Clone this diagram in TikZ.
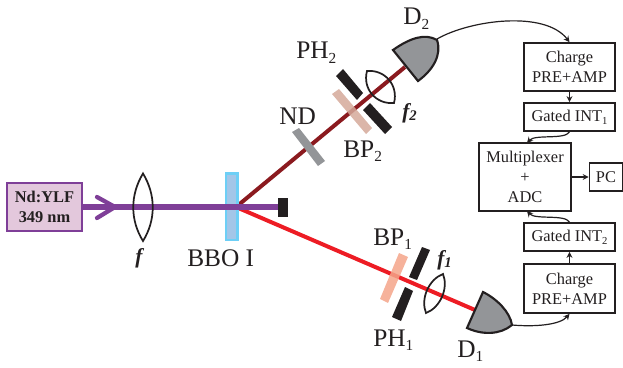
\documentclass[tikz,border=0pt]{standalone}
\usepackage{fontspec}
\setmainfont{Liberation Serif}
\usetikzlibrary{arrows.meta}
\definecolor{lasercol}{HTML}{7F3F98}
\definecolor{laserfill}{HTML}{E3C8DC}
\definecolor{darkbeam}{HTML}{8B1A1F}
\definecolor{redbeam}{HTML}{ED1C24}
\definecolor{txtcol}{HTML}{231F20}
\definecolor{detgray}{HTML}{939598}
\definecolor{bbofill}{HTML}{A3C6E8}
\definecolor{bboedge}{HTML}{6DCFF6}
\definecolor{bpone}{HTML}{F4A58A}
\definecolor{bptwo}{HTML}{D5A99A}
\newcommand{\bigsub}[1]{\raisebox{-3.6pt}{\fontsize{11.5}{12}\selectfont #1}}
\newcommand{\smallsub}[1]{\raisebox{-2pt}{\fontsize{8}{9}\selectfont #1}}
\newcommand{\focalsub}[1]{\raisebox{-2pt}{\fontsize{11}{12}\selectfont #1}}
\tikzset{
  elecbox/.style={draw=txtcol,line width=1.3pt,fill=white,inner sep=0pt,align=center,font=\fontsize{12.3}{15}\selectfont,text=txtcol},
  biglabel/.style={anchor=base west,inner sep=0pt,text=txtcol,font=\fontsize{19}{20}\selectfont},
  focallabel/.style={anchor=base west,inner sep=0pt,text=txtcol,font=\fontsize{16}{17}\selectfont\bfseries\itshape},
  wire/.style={draw=txtcol,line width=0.9pt,-{Stealth[length=4.5pt,width=4.5pt]}},
  lensline/.style={draw=txtcol,line width=1.3pt},
  blockbar/.style={fill=txtcol,draw=none},
  detector/.style={draw=txtcol,line width=1.6pt,fill=detgray,line join=miter}
}
\begin{document}
\begin{tikzpicture}[x=0.75pt,y=-0.75pt]
\useasboundingbox (0,0) rectangle (623,367);
% named points
\coordinate (xtal) at (236,207);
\coordinate (dtwo) at (405,67);
\coordinate (done) at (475,310);
\coordinate (dump) at (279,207);
\coordinate (dtwoout) at (437,39);
\coordinate (doneout) at (512,325);
% beams
\draw[darkbeam,line width=3pt] (xtal) -- (dtwo);
\draw[redbeam,line width=3pt] (xtal) -- (done);
% BBO
\draw[draw=bboedge,line width=1.9pt,fill=bbofill] (226,173.5) rectangle (237.5,240);
% laser
\node[draw=lasercol,line width=1.5pt,fill=laserfill,minimum width=74.5*0.75pt,minimum height=47.5*0.75pt,inner sep=0pt,align=center,text=txtcol,font=\fontsize{12.3}{15}\selectfont\bfseries] (laser) at (44.5,207) {Nd:YLF\\349 nm};
\draw[lasercol,line width=3.8pt] (laser.east) -- (dump);
\draw[lasercol,line width=3.2pt,line cap=round,line join=miter] (97,197) -- (115,207) -- (97,218);
\fill[blockbar] (278,198) rectangle (288,217);
% lens f
\draw[lensline] (143,173.5) .. controls (130,195) and (130,220) .. (143,241) .. controls (156,220) and (156,195) .. (143,173.5) -- cycle;
% upper arm
\fill[fill=detgray] (292,132) -- (299,128) -- (325,161) -- (318,166) -- cycle;
\fill[fill=txtcol] (336,76) -- (343,69) -- (363,93) -- (357,100) -- cycle;
\fill[fill=txtcol] (363,110) -- (370,103) -- (392,127) -- (385,134) -- cycle;
\fill[fill=bptwo,fill opacity=0.85] (332,94) -- (339,89) -- (372,128) -- (366,134) -- cycle;
\draw[lensline] (367,71) .. controls (385,69.4) and (398.6,85.4) .. (394,103) .. controls (375.8,104.6) and (362.3,88.6) .. (367,71) -- cycle;
\draw[detector] (393,50) .. controls (410,38) and (425,33) .. (437,40) .. controls (442,55) and (433,70) .. (418,81) -- cycle;
% lower arm
\fill[fill=txtcol] (422,247) -- (430,250) -- (417,280) -- (409,277) -- cycle;
\fill[fill=txtcol] (405,287) -- (413,291) -- (401,321) -- (392,317) -- cycle;
\fill[fill=bpone,fill opacity=0.85] (399,253) -- (408,257) -- (388,303) -- (380,299) -- cycle;
\draw[lensline] (443,274) .. controls (448.75,288.15) and (440.25,307.65) .. (426,313) .. controls (420.25,298.85) and (428.75,279.35) .. (443,274) -- cycle;
\draw[detector] (483,292) .. controls (497,299) and (510,312) .. (512,325) .. controls (500,335) and (482,335) .. (467,328) -- cycle;
% electronics
\node[elecbox,minimum width=91*0.75pt,minimum height=48*0.75pt] (cpone) at (569.5,67) {Charge\\PRE+AMP};
\node[elecbox,minimum width=91*0.75pt,minimum height=28*0.75pt] (intone) at (569.5,117) {Gated INT\smallsub{1}};
\node[elecbox,minimum width=92*0.75pt,minimum height=68*0.75pt] (mux) at (525,177) {Multiplexer\\+\\ADC};
\node[elecbox,minimum width=33*0.75pt,minimum height=28*0.75pt] (pc) at (606,177) {PC};
\node[elecbox,minimum width=91*0.75pt,minimum height=28*0.75pt] (inttwo) at (569.5,237) {Gated INT\smallsub{2}};
\node[elecbox,minimum width=91*0.75pt,minimum height=49*0.75pt] (cptwo) at (569.5,288.5) {Charge\\PRE+AMP};
% wires
\draw[wire] (cpone.south) -- (intone.north);
\draw[wire] (cptwo.north) -- (inttwo.south);
\draw[wire] (mux.east) -- (pc.west);
\draw[wire] (intone.south) .. controls (565,140) and (535,134) .. (527,143);
\draw[wire] (inttwo.north) .. controls (565,214) and (535,220) .. (527,211);
\draw[wire] (dtwoout) .. controls (470,20) and (545,10) .. (cpone.north);
\draw[wire] (doneout) .. controls (535,327) and (560,325) .. (cptwo.south);
% labels
\node[biglabel] (lbbbo) at (187,266) {BBO I};
\node[focallabel] (lbf) at (135,263) {f};
\node[biglabel] (lbdtwo) at (403,25) {D\bigsub{2}};
\node[biglabel] (lbphtwo) at (296,59) {PH\bigsub{2}};
\node[biglabel] (lbnd) at (279,124) {ND};
\node[biglabel] (lbbptwo) at (343,157) {BP\bigsub{2}};
\node[focallabel] (lbftwo) at (402,118) {f\focalsub{2}};
\node[biglabel] (lbbpone) at (373,245) {BP\bigsub{1}};
\node[biglabel] (lbphone) at (373,346) {PH\bigsub{1}};
\node[biglabel] (lbdone) at (457,357) {D\bigsub{1}};
\node[focallabel] (lbfone) at (437,265) {f\focalsub{1}};
\end{tikzpicture}
\end{document}
